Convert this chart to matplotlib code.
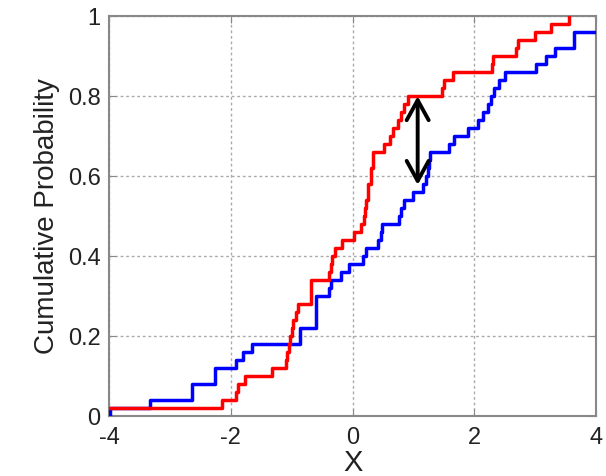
"""
Two empirical CDFs (red and blue) with the largest vertical gap marked by an arrow.
"""

import matplotlib
matplotlib.use("Agg")
import matplotlib.pyplot as plt

# Step positions (x of each jump) and the level reached after each jump
red_x = [-4.0, -2.15, -1.92, -1.88, -1.77, -1.32, -1.10, -1.07, -1.05, -1.03,
         -1.00, -0.98, -0.93, -0.90, -0.68, -0.38, -0.36, -0.34, -0.29, -0.17,
         0.03, 0.14, 0.19, 0.20, 0.22, 0.25, 0.26, 0.30, 0.31, 0.33,
         0.34, 0.52, 0.61, 0.66, 0.74, 0.80, 0.85, 0.91, 1.47, 1.50,
         1.65, 2.29, 2.31, 2.69, 2.72, 2.99, 3.26, 3.56]
red_y = [0.02, 0.04, 0.06, 0.08, 0.10, 0.12, 0.14, 0.16, 0.18, 0.20,
         0.22, 0.24, 0.26, 0.28, 0.34, 0.36, 0.38, 0.40, 0.42, 0.44,
         0.46, 0.48, 0.50, 0.52, 0.54, 0.56, 0.58, 0.60, 0.62, 0.64,
         0.66, 0.68, 0.70, 0.72, 0.74, 0.76, 0.78, 0.80, 0.82, 0.84,
         0.86, 0.88, 0.90, 0.92, 0.94, 0.96, 0.98, 1.00]

blue_x = [-4.0, -3.99, -3.33, -2.63, -2.26, -1.91, -1.80, -1.66, -0.87, -0.60,
          -0.38, -0.35, -0.19, -0.05, 0.17, 0.22, 0.42, 0.47, 0.49, 0.77,
          0.80, 0.85, 0.99, 1.15, 1.21, 1.24, 1.26, 1.28, 1.59, 1.67,
          1.89, 2.06, 2.14, 2.22, 2.28, 2.33, 2.41, 2.50, 3.01, 3.18,
          3.32, 3.64, 4.0]
blue_y = [0.0, 0.02, 0.04, 0.08, 0.12, 0.14, 0.16, 0.18, 0.22, 0.30,
          0.32, 0.34, 0.36, 0.38, 0.40, 0.42, 0.44, 0.46, 0.48, 0.50,
          0.52, 0.54, 0.56, 0.58, 0.60, 0.62, 0.64, 0.66, 0.68, 0.70,
          0.72, 0.74, 0.76, 0.78, 0.80, 0.82, 0.84, 0.86, 0.88, 0.90,
          0.92, 0.96, 0.96]

# Largest gap between the two curves
gap_x = 1.07
gap_top = 0.80
gap_bottom = 0.578

plt.rcParams["font.family"] = ["Liberation Sans", "DejaVu Sans"]
plt.rcParams["axes.unicode_minus"] = False

fig = plt.figure(figsize=(6.06, 4.76), dpi=100)
ax = fig.add_axes([0.18, 0.126, 0.8035, 0.84])

ax.step(blue_x, blue_y, where="post", color="#0000ff", lw=2.5, zorder=3)
ax.step(red_x, red_y, where="post", color="#ff0000", lw=2.5, zorder=4)

ax.annotate(
    "",
    xy=(gap_x, gap_top),
    xytext=(gap_x, gap_bottom),
    arrowprops=dict(arrowstyle="<->,head_length=0.6,head_width=0.33",
                    lw=2.8, color="black", mutation_scale=24,
                    shrinkA=0, shrinkB=0),
    zorder=5,
)

ax.set_xlim(-4, 4)
ax.set_ylim(0, 1)
ax.set_xticks([-4, -2, 0, 2, 4])
ax.set_yticks([0, 0.2, 0.4, 0.6, 0.8, 1])
ax.set_yticklabels(["0", "0.2", "0.4", "0.6", "0.8", "1"])
ax.grid(True, linestyle=(0, (2, 2)), color="#aaaaaa", lw=1.0)
ax.tick_params(axis="both", direction="in", length=5, color="#888888",
               labelsize=17, labelcolor="#222222", top=True, right=True)
ax.tick_params(axis="x", pad=8)
ax.tick_params(axis="y", pad=6)
for spine in ax.spines.values():
    spine.set_color("#888888")
    spine.set_linewidth(1.5)

ax.set_xlabel("X", fontsize=21, color="#222222", labelpad=0)
ax.set_ylabel("Cumulative Probability", fontsize=20, color="#222222", labelpad=6)

plt.savefig("out.png", dpi=100)
